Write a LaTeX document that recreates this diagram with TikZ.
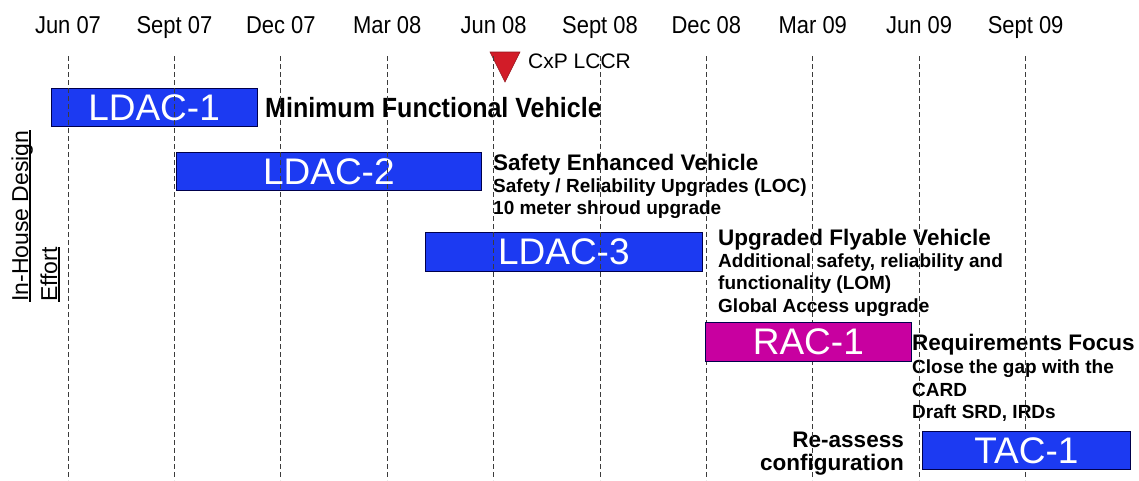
\documentclass[tikz,border=0pt]{standalone}
\usepackage{fontspec}
\setmainfont{Liberation Sans}
\newfontfamily\condfont[FakeStretch=0.9]{Liberation Sans}
\definecolor{barblue}{RGB}{28,58,242}
\definecolor{barmag}{RGB}{200,0,160}
\definecolor{msred}{RGB}{210,28,40}
\definecolor{gridgray}{RGB}{60,60,60}
\newcommand\myul[1]{{\setbox0\hbox{#1}\rlap{\rule[-2.6pt]{\wd0}{1.3pt}}\box0}}
\begin{document}
\begin{tikzpicture}[x=1pt,y=-1pt,
  bar/.style={draw=black!70!blue, line width=0.7pt, inner sep=0pt, anchor=north west, text=white, font=\fontsize{37}{40}\selectfont},
  month/.style={anchor=base, inner sep=0pt, font=\condfont\fontsize{24.4}{26}\selectfont},
  hdr/.style={anchor=base west, inner sep=0pt, font=\fontsize{22.5}{26}\selectfont\bfseries},
  sub/.style={anchor=base west, inner sep=0pt, font=\fontsize{19}{22}\selectfont\bfseries},
  grid/.style={draw=gridgray, line width=0.9pt, dash pattern=on 5pt off 3pt},
  side/.style={rotate=90, anchor=base west, inner sep=0pt, font=\fontsize{23}{26}\selectfont}
]
\useasboundingbox (0,0) rectangle (1139,480);
% month labels
\foreach \i/\t in {0/Jun 07,1/Sept 07,2/Dec 07,3/Mar 08,4/Jun 08,5/Sept 08,6/Dec 08,7/Mar 09,8/Jun 09,9/Sept 09}{
  \node[month] (m\i) at (68+106.4*\i,33) {\t};
}
% milestone
\path[fill=msred, draw=msred!70!black, line width=0.6pt] (490,52) -- (520,52) -- (505,82) -- cycle;
\node[anchor=base west, inner sep=0pt, font=\fontsize{21}{24}\selectfont] (lccr) at (528,68) {CxP LCCR};
% side label
\node[side] (side1) at (28,302) {\myul{In-House Design}};
\node[side] (side2) at (57,302) {\myul{Effort}};
% LDAC bars (under grid lines)
\node[bar, fill=barblue, minimum width=206pt, minimum height=38pt] (ldac1) at (50.7,88) {LDAC-1};
\node[bar, fill=barblue, minimum width=305pt, minimum height=38pt] (ldac2) at (176,152) {LDAC-2};
\node[bar, fill=barblue, minimum width=277pt, minimum height=39pt] (ldac3) at (425,232) {LDAC-3};
% descriptions
\node[hdr, font=\condfont\fontsize{27.8}{30}\selectfont\bfseries] (t1) at (265,117) {Minimum Functional Vehicle};
\node[hdr] (t2) at (493,170) {Safety Enhanced Vehicle};
\node[sub] (t2a) at (493,192) {Safety / Reliability Upgrades (LOC)};
\node[sub] (t2b) at (493,214) {10 meter shroud upgrade};
\node[hdr] (t3) at (718,245) {Upgraded Flyable Vehicle};
\node[sub] (t3a) at (718,267) {Additional safety, reliability and};
\node[sub] (t3b) at (718,289) {functionality (LOM)};
\node[sub] (t3c) at (718,312) {Global Access upgrade};
\node[hdr] (t4) at (912,350) {Requirements Focus};
\node[sub] (t4a) at (912,373) {Close the gap with the};
\node[sub] (t4b) at (912,396) {CARD};
\node[sub] (t4c) at (912,418) {Draft SRD, IRDs};
\node[hdr, anchor=base east] (t5a) at (904,447) {Re-assess};
\node[hdr, anchor=base east] (t5b) at (904,470) {configuration};
% grid lines
\foreach \i in {0,...,9}{
  \draw[grid] (68+106.4*\i,56) -- (68+106.4*\i,480);
}
% bars over grid lines
\node[bar, fill=barmag, minimum width=206pt, minimum height=39pt] (rac1) at (705,322) {RAC-1};
\node[bar, fill=barblue, minimum width=208pt, minimum height=38pt] (tac1) at (922,431) {TAC-1};
\end{tikzpicture}
\end{document}
